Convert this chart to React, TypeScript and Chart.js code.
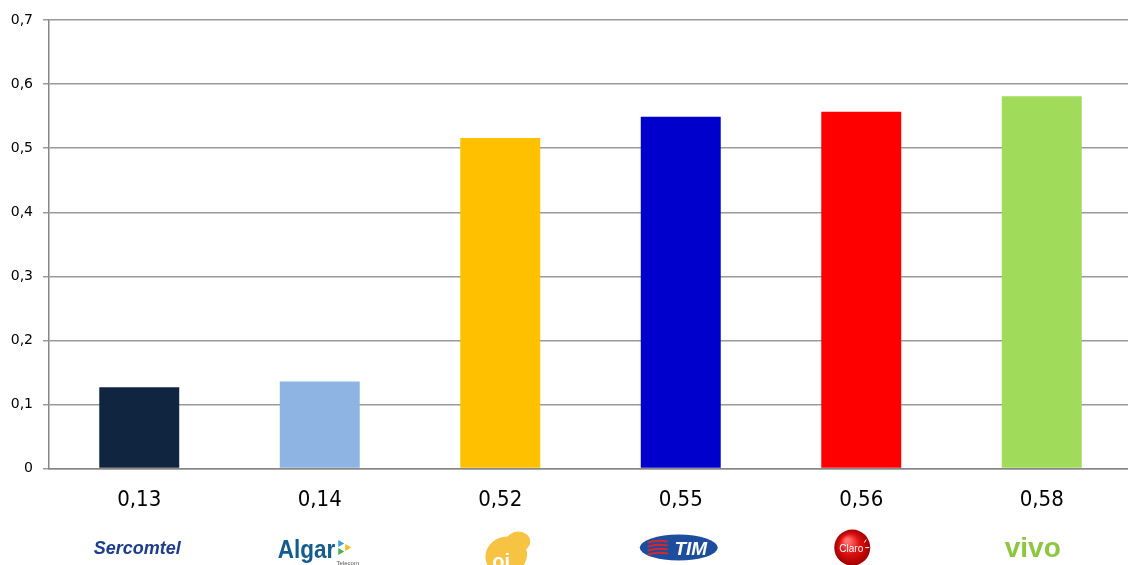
import React, { useEffect, useRef } from "react";
import { Chart, registerables } from "chart.js";

Chart.register(...registerables);

const brands = ["Sercomtel", "Algar", "oi", "TIM", "Claro", "vivo"];
const values = [0.127, 0.136, 0.516, 0.549, 0.557, 0.581];
const valueLabels = ["0,13", "0,14", "0,52", "0,55", "0,56", "0,58"];
const barColors = ["#10253F", "#8EB4E3", "#FFC000", "#0000CC", "#FF0000", "#A0DC5A"];
const yMin = 0;
const yMax = 0.7;
const yStep = 0.1;

function drawLogo(ctx: CanvasRenderingContext2D, brand: string, cx: number, cy: number) {
  ctx.save();
  ctx.textAlign = "center";
  ctx.textBaseline = "alphabetic";
  if (brand === "Sercomtel") {
    ctx.fillStyle = "#1E3C8C";
    ctx.font = "italic bold 18px 'Liberation Sans', Arial, sans-serif";
    ctx.fillText("Sercomtel", cx - 2, cy + 6);
  } else if (brand === "Algar") {
    ctx.fillStyle = "#145C8C";
    ctx.font = "bold 25px 'Liberation Sans', Arial, sans-serif";
    ctx.textAlign = "left";
    const left = cx - 42;
    ctx.save();
    ctx.translate(left, cy + 10);
    ctx.scale(0.9, 1);
    ctx.fillText("Algar", 0, 0);
    const w = ctx.measureText("Algar").width * 0.9;
    ctx.restore();
    const tx = left + w + 3;
    const tri = (x: number, y: number, col: string) => {
      ctx.fillStyle = col;
      ctx.beginPath();
      ctx.moveTo(x, y - 3.5);
      ctx.lineTo(x + 6, y);
      ctx.lineTo(x, y + 3.5);
      ctx.closePath();
      ctx.fill();
    };
    tri(tx, cy - 4, "#3BA0D8");
    tri(tx + 7, cy, "#F0C020");
    tri(tx, cy + 4, "#4BB04B");
    ctx.fillStyle = "#555";
    ctx.font = "6px 'Liberation Sans', Arial, sans-serif";
    ctx.textAlign = "center";
    ctx.fillText("Telecom", cx + 28, cy + 17);
  } else if (brand === "oi") {
    ctx.fillStyle = "#F6C343";
    ctx.beginPath();
    ctx.ellipse(cx + 6, cy + 8, 21, 19, -0.3, 0, Math.PI * 2);
    ctx.fill();
    ctx.beginPath();
    ctx.ellipse(cx + 18, cy - 6, 12, 10, 0, 0, Math.PI * 2);
    ctx.fill();
    ctx.fillStyle = "#FFFFFF";
    ctx.font = "bold 20px 'Liberation Sans', Arial, sans-serif";
    ctx.fillText("oi", cx + 1, cy + 20);
  } else if (brand === "TIM") {
    ctx.fillStyle = "#1D4E9E";
    ctx.beginPath();
    ctx.ellipse(cx - 2, cy, 39, 13, 0, 0, Math.PI * 2);
    ctx.fill();
    ctx.strokeStyle = "#D9262C";
    ctx.lineWidth = 2;
    for (let k = 0; k < 4; k++) {
      const yy = cy - 6 + k * 4;
      ctx.beginPath();
      ctx.moveTo(cx - 33, yy + 1);
      ctx.quadraticCurveTo(cx - 24, yy - 2, cx - 13, yy);
      ctx.stroke();
    }
    ctx.fillStyle = "#FFFFFF";
    ctx.font = "italic bold 19px 'Liberation Sans', Arial, sans-serif";
    ctx.fillText("TIM", cx + 10, cy + 7);
  } else if (brand === "Claro") {
    const ccx = cx - 9;
    const g = ctx.createRadialGradient(ccx - 5, cy - 7, 2, ccx, cy, 18);
    g.addColorStop(0, "#FF7070");
    g.addColorStop(0.5, "#E01010");
    g.addColorStop(1, "#A00000");
    ctx.fillStyle = g;
    ctx.beginPath();
    ctx.arc(ccx, cy, 18, 0, Math.PI * 2);
    ctx.fill();
    ctx.fillStyle = "#FFFFFF";
    ctx.font = "10px 'Liberation Sans', Arial, sans-serif";
    ctx.fillText("Claro", ccx - 1, cy + 4);
    ctx.strokeStyle = "#FFFFFF";
    ctx.lineWidth = 1;
    ctx.beginPath();
    ctx.moveTo(ccx + 13, cy);
    ctx.lineTo(ccx + 17, cy);
    ctx.moveTo(ccx + 12, cy - 5);
    ctx.lineTo(ccx + 14, cy - 8);
    ctx.stroke();
  } else if (brand === "vivo") {
    ctx.fillStyle = "#8DC63F";
    ctx.font = "bold 28px 'Liberation Sans', Arial, sans-serif";
    ctx.fillText("vivo", cx - 9, cy + 9);
  }
  ctx.restore();
}

const logoPlugin = {
  id: "brandLogos",
  afterDraw(chart: any) {
    const ctx = chart.ctx as CanvasRenderingContext2D;
    const xs = chart.scales.x;
    const cy = chart.chartArea.bottom + 79;
    brands.forEach((b, i) => {
      drawLogo(ctx, b, xs.getPixelForValue(i), cy);
    });
  },
};

export default function App() {
  const ref = useRef<HTMLCanvasElement | null>(null);
  useEffect(() => {
    document.body.style.overflow = "hidden";
    if (!ref.current) return;
    const chart = new Chart(ref.current, {
      type: "bar",
      data: {
        labels: valueLabels,
        datasets: [
          {
            data: values,
            backgroundColor: barColors,
            borderWidth: 0,
            barPercentage: 0.443,
            categoryPercentage: 1,
          },
        ],
      },
      options: {
        animation: false,
        responsive: true,
        maintainAspectRatio: false,
        layout: { padding: { top: 20, right: 0, bottom: 42, left: 0 } },
        plugins: { legend: { display: false }, tooltip: { enabled: false } },
        scales: {
          x: {
            grid: { display: false },
            border: { color: "#868686", width: 1.5 },
            ticks: {
              color: "#000000",
              padding: 10,
              font: { family: "'Liberation Sans Narrow', 'DejaVu Sans Condensed', sans-serif", size: 22 },
            },
          },
          y: {
            min: yMin,
            max: yMax,
            afterFit: (scale: any) => {
              scale.width = 49;
            },
            grid: { color: "#9A9A9A", lineWidth: 1.5, tickLength: 6 },
            border: { color: "#868686", width: 1.5 },
            ticks: {
              stepSize: yStep,
              padding: 10,
              color: "#000000",
              font: { family: "'DejaVu Sans', sans-serif", size: 14 },
              callback: (v: any) => (Number(v) === 0 ? "0" : Number(v).toFixed(1).replace(".", ",")),
            },
          },
        },
      },
      plugins: [logoPlugin],
    });
    return () => chart.destroy();
  }, []);
  return (
    <div style={{ position: "fixed", left: 0, top: 0, width: 1132, height: 565, background: "#fff" }}>
      <canvas ref={ref} />
    </div>
  );
}
